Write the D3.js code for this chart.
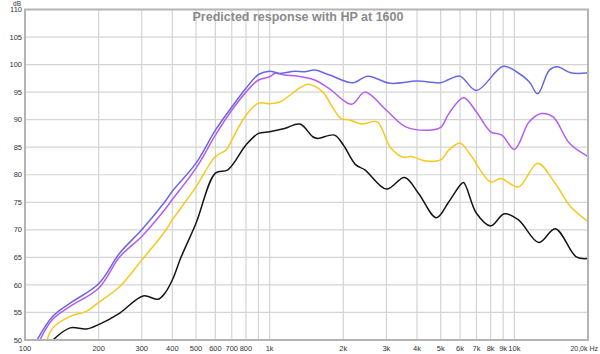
<!DOCTYPE html>
<html>
<head>
<meta charset="utf-8">
<script src="https://d3js.org/d3.v7.min.js"></script>
<style>
  body { margin: 0; background: #fff; }
  svg { display: block; font-family: "Liberation Sans", Arial, sans-serif; }
</style>
</head>
<body>
<div id="chart"></div>
<script>
// values (Hz / dB)
var title = "Predicted response with HP at 1600";
var yTicks = [50, 55, 60, 65, 70, 75, 80, 85, 90, 95, 100, 105, 110];
var xGrid = [100, 200, 300, 400, 500, 600, 700, 800, 900, 1000, 2000, 3000, 4000, 5000, 6000, 7000, 8000, 9000, 10000, 20000];
var xLabels = [[100, "100"], [200, "200"], [300, "300"], [400, "400"], [500, "500"], [600, "600"], [700, "700"], [800, "800"],
  [1000, "1k"], [2000, "2k"], [3000, "3k"], [4000, "4k"], [5000, "5k"], [6000, "6k"], [7000, "7k"], [8000, "8k"], [9000, "9k"], [10000, "10k"]];

var blueFreq = [112, 130, 153, 200, 244, 300, 373, 400, 500, 600, 700, 800, 900, 1000, 1100, 1265, 1390, 1527, 1757, 2188, 2518, 3100, 4000, 5000, 5400, 6000, 7000, 9000, 10200, 11500, 12450, 13900, 15000, 17000, 20000];
var blueDb   = [50, 54.3, 56.7, 60.2, 65.8, 70.0, 75.1, 77.0, 82.1, 88.1, 92.3, 95.7, 98.2, 98.8, 98.4, 98.8, 98.7, 99.0, 98.1, 96.7, 97.9, 96.6, 97.0, 96.7, 97.3, 97.9, 95.3, 99.7, 98.7, 96.9, 94.7, 99.0, 99.6, 98.5, 98.5];

var purpleFreq = [115, 130, 153, 200, 244, 300, 373, 400, 500, 600, 700, 800, 900, 1000, 1050, 1150, 1310, 1527, 1757, 2160, 2450, 3000, 3600, 4500, 5000, 5400, 6200, 7000, 8000, 8900, 10000, 11500, 12900, 14400, 16800, 20000];
var purpleDb   = [50, 53.8, 56.1, 59.4, 65.1, 68.8, 73.7, 75.5, 81.2, 87.2, 91.7, 95.0, 97.2, 97.8, 98.4, 98.1, 97.9, 97.2, 95.6, 92.8, 95.0, 91.7, 88.7, 88.1, 88.6, 91.1, 94.0, 91.4, 87.8, 87.2, 84.6, 89.6, 91.1, 90.5, 85.7, 83.3];

var yellowFreq = [123, 130, 153, 178, 200, 244, 300, 373, 400, 500, 600, 664, 700, 800, 900, 1000, 1100, 1310, 1420, 1527, 1650, 1960, 2110, 2370, 2750, 3100, 3500, 3790, 4340, 5000, 5400, 6000, 6550, 8000, 8800, 10400, 12450, 14700, 17000, 20000];
var yellowDb   = [50, 52.2, 54.3, 55.2, 56.8, 59.7, 64.5, 69.7, 71.8, 77.8, 83.3, 84.5, 86.3, 90.8, 93.0, 92.9, 93.2, 95.6, 96.4, 96.1, 95.0, 90.2, 90.0, 89.2, 89.6, 85.1, 83.2, 83.3, 82.5, 82.7, 84.5, 85.7, 83.9, 78.7, 79.3, 77.8, 82.1, 78.4, 74.2, 71.5];

var blackFreq = [130, 153, 178, 200, 244, 304, 350, 373, 400, 435, 500, 600, 675, 800, 900, 1000, 1150, 1330, 1500, 1570, 1840, 2000, 2250, 2450, 3000, 3560, 4060, 4800, 5400, 6000, 6200, 7000, 8000, 9100, 10400, 12600, 14700, 17900, 20000];
var blackDb   = [50, 52.2, 52.0, 52.8, 54.9, 58.0, 57.4, 58.5, 60.9, 65.1, 71.2, 80.3, 80.9, 85.4, 87.5, 87.8, 88.4, 89.2, 86.9, 86.6, 87.2, 85.4, 81.8, 80.9, 77.4, 79.5, 76.6, 72.2, 75.1, 78.1, 78.6, 73.0, 70.7, 72.9, 71.8, 67.7, 70.2, 65.1, 64.8];

var series = [
  {name: "black", freq: blackFreq, db: blackDb, color: "#151515"},
  {name: "yellow", freq: yellowFreq, db: yellowDb, color: "#f7c81e"},
  {name: "purple", freq: purpleFreq, db: purpleDb, color: "#b45cf0"},
  {name: "blue", freq: blueFreq, db: blueDb, color: "#6868e4"}
];

var W = 600, H = 354;
var margin = {top: 9.5, right: 12, bottom: 14, left: 25};
var width = W - margin.left - margin.right,
    height = H - margin.top - margin.bottom;

var x = d3.scaleLog().domain([100, 20000]).range([0, width]);
var y = d3.scaleLinear().domain([50, 110]).range([height, 0]);

var svg = d3.select("#chart").append("svg")
    .attr("width", W)
    .attr("height", H);

var g = svg.append("g")
    .attr("transform", "translate(" + margin.left + "," + margin.top + ")");

g.append("defs").append("clipPath").attr("id", "clip")
  .append("rect").attr("width", width).attr("height", height);

// grid
g.selectAll(".hgrid").data(yTicks).enter().append("line")
    .attr("x1", 0).attr("x2", width)
    .attr("y1", function(d) { return y(d); }).attr("y2", function(d) { return y(d); })
    .attr("stroke", "#d4d4d4").attr("stroke-width", 1.2);

g.selectAll(".vgrid").data(xGrid).enter().append("line")
    .attr("x1", function(d) { return x(d); }).attr("x2", function(d) { return x(d); })
    .attr("y1", 0).attr("y2", height)
    .attr("stroke", "#d4d4d4").attr("stroke-width", 1.2);

// curves
var line = d3.line()
    .x(function(d) { return x(d[0]); })
    .y(function(d) { return y(d[1]); })
    .curve(d3.curveCatmullRom.alpha(0.5));

g.append("g").attr("clip-path", "url(#clip)")
  .selectAll("path").data(series).enter().append("path")
    .attr("fill", "none")
    .attr("stroke", function(d) { return d.color; })
    .attr("stroke-width", 1.5)
    .attr("d", function(d) { return line(d.freq.map(function(f, i) { return [f, d.db[i]]; })); });

// frame
g.append("rect")
    .attr("width", width).attr("height", height)
    .attr("fill", "none").attr("stroke", "#b4b4b4").attr("stroke-width", 2);

// y labels
g.selectAll(".ylab").data(yTicks).enter().append("text")
    .attr("x", -3).attr("y", function(d) { return y(d); })
    .attr("dy", "0.35em").attr("text-anchor", "end")
    .attr("font-size", 7.5).attr("fill", "#333")
    .text(function(d) { return d; });

svg.append("text").attr("x", 17).attr("y", 5.5)
    .attr("text-anchor", "middle").attr("font-size", 6.5).attr("fill", "#333")
    .text("dB");

// x labels
g.selectAll(".xlab").data(xLabels).enter().append("text")
    .attr("x", function(d) { return x(d[0]); }).attr("y", height + 11)
    .attr("text-anchor", "middle").attr("font-size", 7.5).attr("fill", "#333")
    .text(function(d) { return d[1]; });

svg.append("text").attr("x", W - 2).attr("y", margin.top + height + 11)
    .attr("text-anchor", "end").attr("font-size", 7).attr("fill", "#333")
    .text("20,0k Hz");

// title
svg.append("text").attr("x", 298).attr("y", 21)
    .attr("text-anchor", "middle").attr("font-size", 12.5).attr("font-weight", "bold")
    .attr("fill", "#8a8a8a")
    .text(title);
</script>
</body>
</html>
